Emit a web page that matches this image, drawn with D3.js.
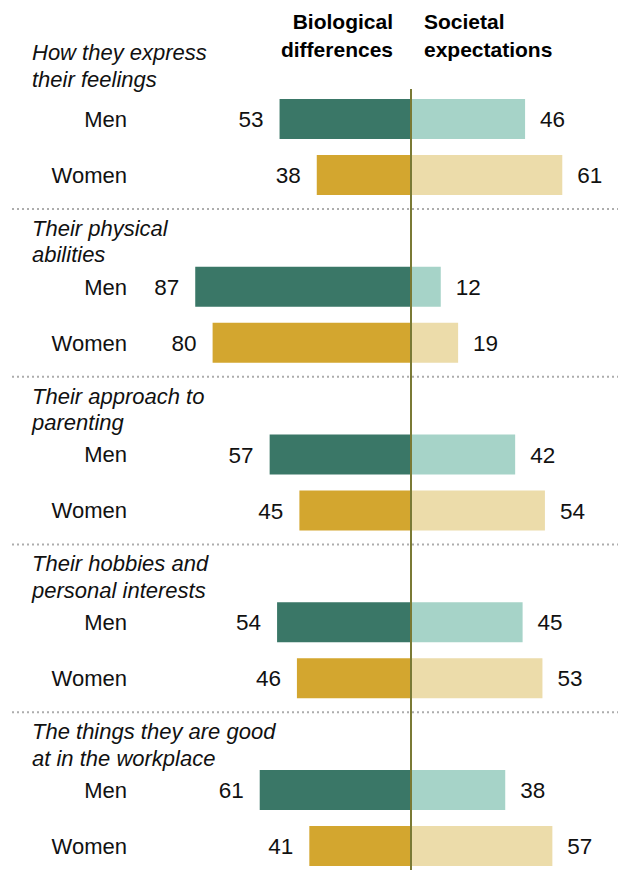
<!DOCTYPE html>
<html>
<head>
<meta charset="utf-8">
<script src="https://cdn.jsdelivr.net/npm/d3@7"></script>
<style>
  html, body { margin: 0; padding: 0; background: #fff; }
  svg { display: block; font-family: "Liberation Sans", Arial, sans-serif; }
</style>
</head>
<body>
<svg id="chart" width="618" height="870"></svg>
<script>
// Survey topics (each split into its display lines)
const categories = [
  "How they express their feelings",
  "Their physical abilities",
  "Their approach to parenting",
  "Their hobbies and personal interests",
  "The things they are good at in the workplace"
];
const categoryLines = [
  ["How they express", "their feelings"],
  ["Their physical", "abilities"],
  ["Their approach to", "parenting"],
  ["Their hobbies and", "personal interests"],
  ["The things they are good", "at in the workplace"]
];
const rows = ["Men", "Women"];
const headers = { left: ["Biological", "differences"], right: ["Societal", "expectations"] };

// Percent saying differences are mainly due to...
const biologicalMen   = [53, 87, 57, 54, 61];
const societalMen     = [46, 12, 42, 45, 38];
const biologicalWomen = [38, 80, 45, 46, 41];
const societalWomen   = [61, 19, 54, 53, 57];

const colors = {
  Men:   { bio: "#3a7767", soc: "#a6d3c8" },
  Women: { bio: "#d3a62f", soc: "#ecdcaa" }
};

const svg = d3.select("#chart");
const W = 618, H = 870;
const center = 411;

// Horizontal scale: length of a bar for a given percentage
const x = d3.scaleLinear().domain([0, 100]).range([0, 248]);

// Vertical layout: one band per topic, two rows inside each
const groupStep = 167.75;
const yGroup = d3.scaleBand()
  .domain(categories)
  .range([99, 99 + groupStep * categories.length])
  .paddingInner(0).paddingOuter(0);
const yRow = d3.scaleBand()
  .domain(rows)
  .range([0, 96])
  .paddingInner(16 / 56).paddingOuter(0);

const data = [];
categories.forEach((c, i) => {
  data.push({ cat: c, idx: i, row: "Men", bio: biologicalMen[i], soc: societalMen[i] });
  data.push({ cat: c, idx: i, row: "Women", bio: biologicalWomen[i], soc: societalWomen[i] });
});

// Column headers
const hdr = svg.append("g").attr("font-weight", "bold").attr("font-size", 21).attr("fill", "#000");
headers.left.forEach((t, i) => {
  hdr.append("text").attr("x", 393).attr("y", 29 + i * 27.5).attr("text-anchor", "end").text(t);
});
headers.right.forEach((t, i) => {
  hdr.append("text").attr("x", 424).attr("y", 29 + i * 27.5).attr("text-anchor", "start").text(t);
});

// Dotted separators between topics
categories.slice(0, -1).forEach(c => {
  const yy = yGroup(c) + yRow("Women") + yRow.bandwidth() + 14;
  svg.append("line")
    .attr("x1", 12).attr("x2", W)
    .attr("y1", yy).attr("y2", yy)
    .attr("stroke", "#adadad")
    .attr("stroke-width", 2)
    .attr("stroke-dasharray", "2 3");
});

// Topic titles
categories.forEach((c, i) => {
  const top = yGroup(c) - (i === 0 ? 39 : 31);
  const t = svg.append("text")
    .attr("x", 32).attr("y", top)
    .attr("font-style", "italic").attr("font-size", 22).attr("fill", "#111");
  categoryLines[i].forEach((line, j) => {
    t.append("tspan").attr("x", 32).attr("y", top + j * 26.5).text(line);
  });
});

const rowsG = svg.selectAll("g.row").data(data).join("g")
  .attr("class", "row")
  .attr("transform", d => `translate(0,${yGroup(d.cat) + yRow(d.row)})`);

const bh = yRow.bandwidth();

// Biological bars extend left of the center line
rowsG.append("rect")
  .attr("x", d => center - x(d.bio))
  .attr("y", 0)
  .attr("width", d => x(d.bio))
  .attr("height", bh)
  .attr("fill", d => colors[d.row].bio);

// Societal bars extend right of the center line
rowsG.append("rect")
  .attr("x", center)
  .attr("y", 0)
  .attr("width", d => x(d.soc))
  .attr("height", bh)
  .attr("fill", d => colors[d.row].soc);

// Row labels
rowsG.append("text")
  .attr("x", 127).attr("y", bh / 2)
  .attr("dy", "0.36em")
  .attr("text-anchor", "end")
  .attr("font-size", 22).attr("fill", "#111")
  .text(d => d.row);

// Value labels
rowsG.append("text")
  .attr("x", d => center - x(d.bio) - 16).attr("y", bh / 2)
  .attr("dy", "0.36em")
  .attr("text-anchor", "end")
  .attr("font-size", 22.5).attr("fill", "#111")
  .text(d => d.bio);
rowsG.append("text")
  .attr("x", d => center + x(d.soc) + 15).attr("y", bh / 2)
  .attr("dy", "0.36em")
  .attr("text-anchor", "start")
  .attr("font-size", 22.5).attr("fill", "#111")
  .text(d => d.soc);

// Center divider
svg.append("line")
  .attr("x1", center).attr("x2", center)
  .attr("y1", 89).attr("y2", H)
  .attr("stroke", "#7a7a35")
  .attr("stroke-width", 2);
</script>
</body>
</html>
